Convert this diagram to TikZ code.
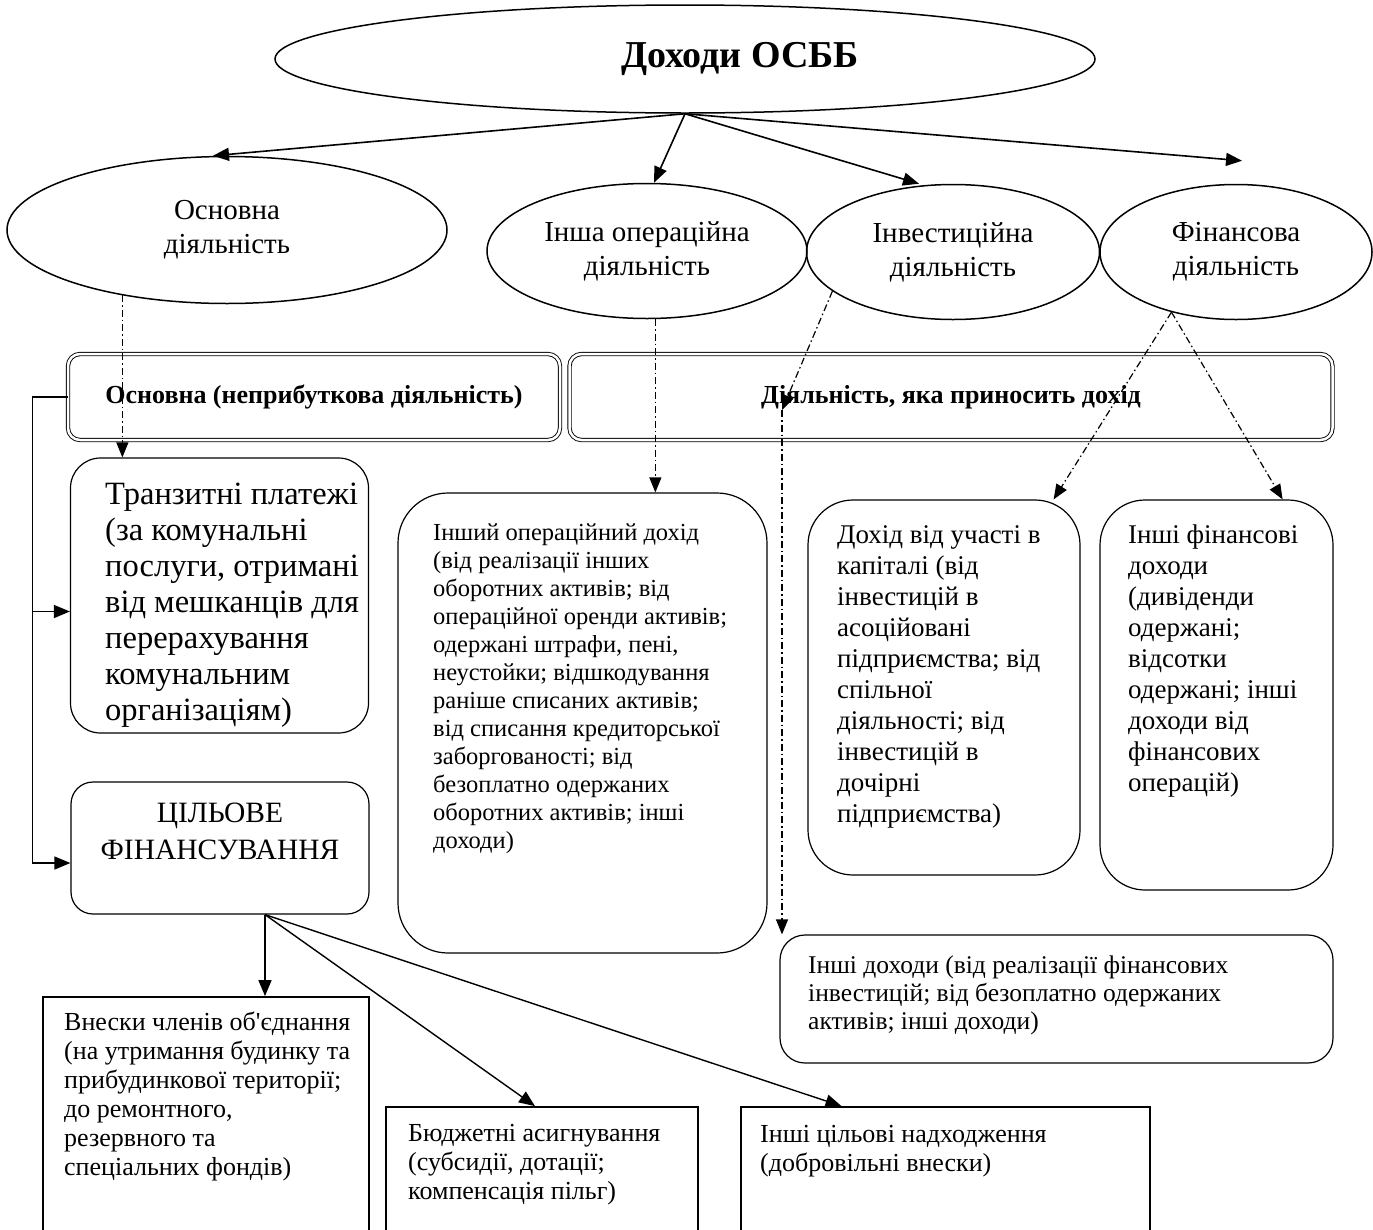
\documentclass[tikz,border=0pt]{standalone}
\usepackage{fontspec}
\setmainfont{Liberation Serif}[Ligatures=TeXOff]
\usetikzlibrary{arrows.meta,positioning,shapes.geometric,calc}
\newcommand{\fsz}[2]{\fontsize{#1}{#2}\selectfont}

\begin{document}
\begin{tikzpicture}[x=1pt,y=1pt,
  arr/.style={-{Triangle[length=16pt,width=13pt]},line width=1.6pt},
  dd/.style={-{Triangle[length=15pt,width=12pt]},line width=1.2pt,
    dash pattern=on 7pt off 3pt on 1.5pt off 3pt},
  oval/.style={draw,ellipse,line width=1.5pt,inner sep=0pt,align=center,
    font=\fsz{29}{34}},
  dbox/.style={draw,rounded corners=12pt,double,double distance=2.5pt,
    line width=0.9pt,inner sep=0pt,font=\bfseries\fsz{26}{30}},
  rbox/.style={draw,line width=1.2pt,inner sep=0pt},
  sbox/.style={draw,line width=1.8pt,inner sep=0pt},
  txt/.style={inner sep=0pt,anchor=north west,align=left},
  bigtxt/.style={font=\fsz{32.5}{36}},
  midtxt/.style={font=\fsz{27}{31}},
  smalltxt/.style={font=\fsz{24.5}{28}},
  basetxt/.style={font=\fsz{26}{29}}]
  \fill[white] (0,0) rectangle (1373,-1229);
  \useasboundingbox (0,0) rectangle (1373,-1229);

  % Top ellipse
  \node[oval,minimum width=820pt,minimum height=108pt] (top) at (685,-59) {};
  \node[font=\bfseries\fsz{38}{44},inner sep=0pt] (topT) at (740,-59) {Доходи ОСББ};

  % Kinds of activity
  \node[oval,minimum width=440pt,minimum height=147pt] (osn) at (227,-230)
    {Основна\\діяльність};
  \node[oval,minimum width=320pt,minimum height=135pt] (inop) at (647,-251)
    {Інша операційна\\діяльність};
  \node[oval,minimum width=293pt,minimum height=135pt] (inv) at (953,-252)
    {Інвестиційна\\діяльність};
  \node[oval,minimum width=272pt,minimum height=135pt] (fin) at (1236,-252)
    {Фінансова\\діяльність};

  \draw[arr] (top.south) -- ([xshift=-14pt]osn.north);
  \draw[arr] (top.south) -- ([xshift=7pt]inop.north);
  \draw[arr] (top.south) -- ([xshift=-34pt]inv.north);
  \coordinate (finTip) at ([xshift=6pt,yshift=23pt]fin.north);
  \draw[arr] (top.south) -- (finTip);

  % Double boxes
  \node[dbox,minimum width=492pt,minimum height=86pt] (osnbox) at (314,-397)
    {Основна (неприбуткова діяльність)};
  \node[dbox,minimum width=763pt,minimum height=86pt] (dohbox) at (951,-397)
    {Діяльність, яка приносить дохід};

  % Rounded boxes
  \node[rbox,rounded corners=30pt,minimum width=298pt,minimum height=275pt]
    (tranz) at (219.5,-595.5) {};
  \node[txt,bigtxt] (tranzT) at (105,-483) {Транзитні платежі\\(за комунальні\\послуги, отримані\\від мешканців для\\перерахування\\комунальним\\організаціям)};

  \node[rbox,rounded corners=22pt,minimum width=298pt,minimum height=132pt]
    (tsf) at (220,-848) {};
  \node[inner sep=0pt,anchor=north,align=center,font=\fsz{29.5}{37}] (tsfT) at (220,-803)
    {ЦІЛЬОВЕ\\ФІНАНСУВАННЯ};

  \node[rbox,rounded corners=50pt,minimum width=369pt,minimum height=460pt]
    (inopD) at (582.5,-723) {};
  \node[txt,smalltxt] (inopT) at (433,-524) {Інший операційний дохід\\(від реалізації інших\\оборотних активів; від\\операційної оренди активів;\\одержані штрафи, пені,\\неустойки; відшкодування\\раніше списаних активів;\\від списання кредиторської\\заборгованості; від\\безоплатно одержаних\\оборотних активів; інші\\доходи)};

  \node[rbox,rounded corners=45pt,minimum width=272pt,minimum height=375pt]
    (dohU) at (944,-687.5) {};
  \node[txt,midtxt] (dohT) at (837,-525) {Дохід від участі в\\капіталі (від\\інвестицій в\\асоційовані\\підприємства; від\\спільної\\діяльності; від\\інвестицій в\\дочірні\\підприємства)};

  \node[rbox,rounded corners=45pt,minimum width=233pt,minimum height=390pt]
    (finD) at (1216.5,-695) {};
  \node[txt,midtxt] (finT) at (1128,-525) {Інші фінансові\\доходи\\(дивіденди\\одержані;\\відсотки\\одержані; інші\\доходи від\\фінансових\\операцій)};

  \node[rbox,rounded corners=25pt,minimum width=553pt,minimum height=128pt]
    (othD) at (1056.5,-999) {};
  \node[txt,font=\fsz{25.5}{28}] (othT) at (808,-956) {Інші доходи (від реалізації фінансових\\інвестицій; від безоплатно одержаних\\активів; інші доходи)};

  % Purpose financing boxes
  \node[sbox,minimum width=326pt,minimum height=243pt] (vnes) at (206,-1118.5) {};
  \node[txt,basetxt] (vnesT) at (64,-1012) {Внески членів об'єднання\\(на утримання будинку та\\прибудинкової території;\\до ремонтного,\\резервного та\\спеціальних фондів)};
  \node[sbox,minimum width=312pt,minimum height=133pt] (budg) at (542,-1173.5) {};
  \node[txt,basetxt] (budgT) at (408,-1124) {Бюджетні асигнування\\(субсидії, дотації;\\компенсація пільг)};
  \node[sbox,minimum width=409pt,minimum height=133pt] (tsil) at (945.5,-1173.5) {};
  \node[txt,basetxt] (tsilT) at (760,-1125) {Інші цільові надходження\\(добровільні внески)};

  % Dash-dot links
  \draw[dd] (osn.212) -- (osn.212 |- tranz.north);
  \draw[dd] (inop.277) -- (inop.277 |- inopD.north);
  \coordinate (invMid) at (782,-410);
  \draw[dd] (inv.198) -- (invMid);
  \draw[dd] (invMid) -- (invMid |- othD.north);
  \draw[dd] (fin.223) -- ([xshift=-27pt]dohU.north east);
  \draw[dd] (fin.223) -- ([xshift=-51pt]finD.north east);

  % Non-profit branch
  \coordinate (busT) at ($(osnbox.west)+(-35,0)$);
  \coordinate (tranzIn) at ([yshift=-16pt]tranz.west);
  \coordinate (tsfIn) at ([yshift=-15pt]tsf.west);
  \draw[arr,line width=1.4pt] (osnbox.west) -- (busT) |- (tsfIn);
  \draw[arr,line width=1.4pt] (busT |- tranzIn) -- (tranzIn);

  \coordinate (tsfOut) at ([xshift=45pt]tsf.south);
  \draw[arr] (tsfOut) -- (tsfOut |- vnes.north);
  \draw[arr,line width=1.4pt] (tsfOut) -- ([xshift=-7pt]budg.north);
  \draw[arr,line width=1.4pt] (tsfOut) -- ([xshift=-104pt]tsil.north);
\end{tikzpicture}
\end{document}
